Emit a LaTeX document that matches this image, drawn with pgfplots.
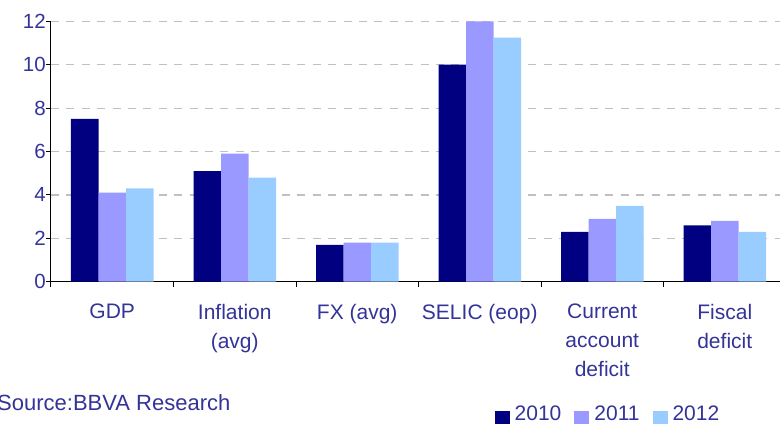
\documentclass[border=0pt]{standalone}
\usepackage{fontspec}
\setmainfont{Liberation Sans}
\usepackage{pgfplots}
\pgfplotsset{compat=1.18}
\definecolor{c10}{RGB}{0,0,128}
\definecolor{c11}{RGB}{153,153,255}
\definecolor{c12}{RGB}{153,204,255}
\definecolor{txt}{RGB}{51,51,153}
\definecolor{gridc}{RGB}{192,192,192}
\begin{document}
\begin{tikzpicture}
\useasboundingbox (0bp,0bp) rectangle (780bp,-424bp);
\begin{axis}[
  at={(51bp,-281.7bp)}, anchor=south west,
  scale only axis, width=735bp, height=260.4bp,
  xmin=-0.5, xmax=5.5, ymin=0, ymax=12,
  ybar=0pt, bar width=27.5bp,
  axis lines*=left,
  axis line style={black, line width=1bp},
  ytick={0,2,...,12},
  ymajorgrids,
  grid style={gridc, dash pattern=on 8bp off 7.4bp, line width=1.2bp},
  tick align=outside,
  major tick length=5bp,
  ytick style={black, line width=1bp},
  y tick label style={font=\fontsize{20.5bp}{24bp}\selectfont, text=txt, inner sep=0pt, anchor=east},
  /pgf/number format/assume math mode=true,
  xtick={0,...,5},
  xticklabels={GDP, Inflation\\(avg), FX (avg), SELIC (eop), Current\\account\\deficit, Fiscal\\deficit},
  x tick label style={align=center, font=\fontsize{21bp}{29bp}\selectfont, text=txt, inner sep=0pt, anchor=north, yshift=-17bp},
  major x tick style={draw=none},
  extra x ticks={-0.5,0.5,...,5.5},
  extra x tick labels={},
  extra x tick style={major x tick style={draw=black, line width=1bp}},
  legend columns=3,
  legend style={at={(0.6034,-0.515)}, anchor=west, draw=none, fill=none, inner sep=0pt,
    font=\fontsize{21bp}{24bp}\selectfont, text=txt,
    /tikz/every odd column/.append style={column sep=5bp},
    /tikz/every even column/.append style={column sep=13bp},
    nodes={inner sep=0pt}},
  legend image code/.code={\draw[#1,/tikz/.cd,draw=none] (0bp,-11.1bp) rectangle (15bp,3.8bp);},
]
\addplot[fill=c10, draw=none] coordinates {(0,7.5) (1,5.1) (2,1.7) (3,10) (4,2.3) (5,2.6)};
\addplot[fill=c11, draw=none] coordinates {(0,4.1) (1,5.9) (2,1.8) (3,12) (4,2.9) (5,2.8)};
\addplot[fill=c12, draw=none] coordinates {(0,4.3) (1,4.8) (2,1.8) (3,11.25) (4,3.5) (5,2.3)};
\legend{2010,2011,2012}
\end{axis}
\node[anchor=base west, inner sep=0pt, text=txt, font=\fontsize{22bp}{24bp}\selectfont] at (-3bp,-410bp) {Source:BBVA Research};
\end{tikzpicture}
\end{document}
